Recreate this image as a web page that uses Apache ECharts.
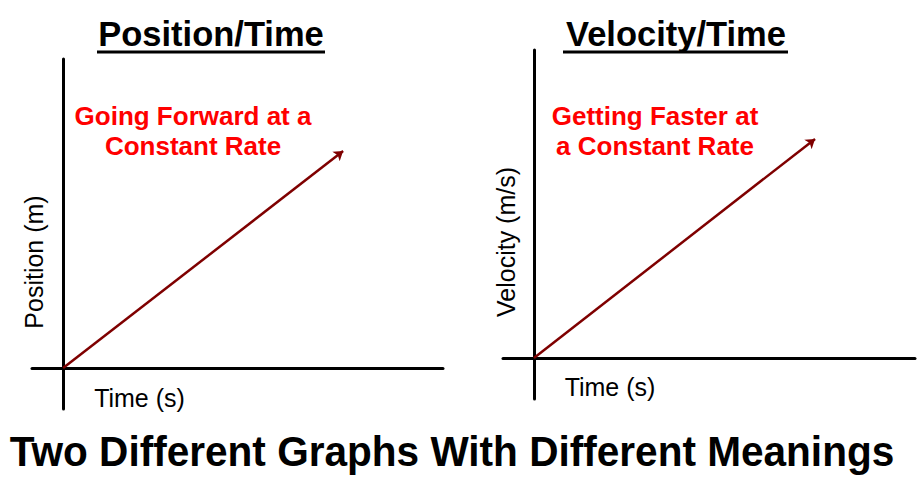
<!DOCTYPE html>
<html>
<head>
<meta charset="utf-8">
<script src="https://cdn.jsdelivr.net/npm/echarts@6/dist/echarts.min.js"></script>
<style>
html,body{margin:0;padding:0;background:#fff;}
#chart{width:922px;height:483px;}
</style>
</head>
<body>
<div id="chart"></div>
<script>
// ---- data ----
const timeValues = [0, 9];
const positionValues = [0, 7];
const velocityValues = [0, 7];
const panelTitles = ['Position/Time', 'Velocity/Time'];
const yAxisNames = ['Position (m)', 'Velocity (m/s)'];
const xAxisName = 'Time (s)';
const notes = [['Going Forward at a', 'Constant Rate'], ['Getting Faster at', 'a Constant Rate']];
const mainTitle = 'Two Different Graphs With Different Meanings';

const FONT = '"Liberation Sans", Arial, sans-serif';
const chart = echarts.init(document.getElementById('chart'), null, {renderer: 'svg'});

function pairs(xs, ys) { return xs.map((x, i) => [x, ys[i]]); }

const axisCommon = {
  type: 'value',
  axisLine: {show: true, onZero: true, lineStyle: {color: '#000', width: 3}},
  axisTick: {show: false},
  axisLabel: {show: false},
  splitLine: {show: false}
};

const arrowSeries = (idx, ys) => ({
  type: 'lines',
  coordinateSystem: 'cartesian2d',
  xAxisIndex: idx, yAxisIndex: idx,
  symbol: ['none', 'arrow'],
  symbolSize: 9,
  lineStyle: {color: '#7f0000', width: 2.5, opacity: 1},
  data: [{coords: pairs(timeValues, ys)}],
  silent: true
});

function txt(text, x, y, size, weight, color, align, rotation, scaleX) {
  return {
    type: 'text', x: x, y: y, rotation: rotation || 0, scaleX: scaleX || 1, silent: true,
    style: {text: text, font: weight + ' ' + size + 'px ' + FONT, fill: color,
            align: align || 'center', verticalAlign: 'middle'}
  };
}

chart.setOption({
  backgroundColor: '#fff',
  animation: false,
  grid: [
    {left: 32, top: 59, width: 411, height: 350, containLabel: false},
    {left: 503, top: 50, width: 412, height: 349, containLabel: false}
  ],
  xAxis: [
    Object.assign({}, axisCommon, {gridIndex: 0, min: -1, max: 12.21}),
    Object.assign({}, axisCommon, {gridIndex: 1, min: -0.99, max: 12.2})
  ],
  yAxis: [
    Object.assign({}, axisCommon, {gridIndex: 0, min: -1.32, max: 9.97}),
    Object.assign({}, axisCommon, {gridIndex: 1, min: -1.31, max: 9.84})
  ],
  series: [arrowSeries(0, positionValues), arrowSeries(1, velocityValues)],
  graphic: [
    txt(panelTitles[0], 211, 34, 34.5, 'bold', '#000'),
    {type: 'rect', silent: true, shape: {x: 97, y: 50.5, width: 228, height: 3}, style: {fill: '#000'}},
    txt(panelTitles[1], 676, 34, 34.5, 'bold', '#000'),
    {type: 'rect', silent: true, shape: {x: 563, y: 50.5, width: 225, height: 3}, style: {fill: '#000'}},
    txt(notes[0][0], 193, 116, 26, 'bold', '#ff0000'),
    txt(notes[0][1], 193, 146, 26, 'bold', '#ff0000'),
    txt(notes[1][0], 655, 116, 26, 'bold', '#ff0000'),
    txt(notes[1][1], 655, 146, 26, 'bold', '#ff0000'),
    txt(yAxisNames[0], 34, 262, 25, 'normal', '#000', 'center', Math.PI / 2),
    txt(yAxisNames[1], 506, 242, 25, 'normal', '#000', 'center', Math.PI / 2),
    txt(xAxisName, 139.5, 398, 25, 'normal', '#000'),
    txt(xAxisName, 610, 387, 25, 'normal', '#000'),
    txt(mainTitle, 452, 452, 42, 'bold', '#000', 'center', 0, 0.966)
  ]
});
</script>
</body>
</html>
